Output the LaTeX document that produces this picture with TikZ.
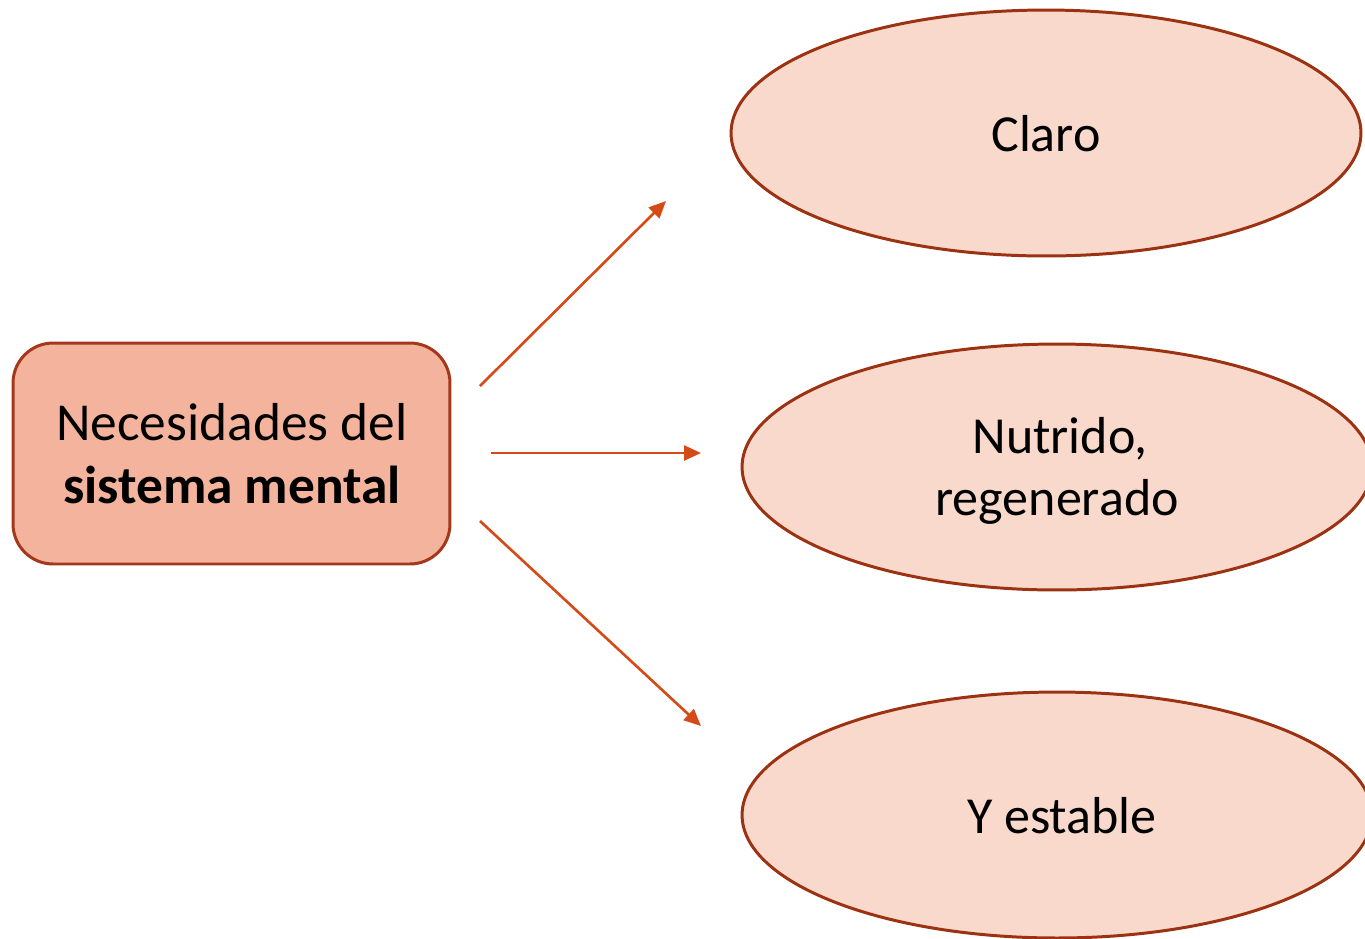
\documentclass[tikz,border=0pt]{standalone}
\usepackage{fontspec}
\setmainfont{Carlito}
\usetikzlibrary{arrows.meta,shapes.geometric}
\definecolor{boxfill}{HTML}{F3B39D}
\definecolor{boxdraw}{HTML}{A3381A}
\definecolor{ellfill}{HTML}{F8D9CC}
\definecolor{elldraw}{HTML}{9C3212}
\definecolor{arrcol}{HTML}{D54B17}
\begin{document}
\begin{tikzpicture}[x=0.02cm,y=-0.02cm,
  txt/.style={anchor=base,inner sep=0pt,font=\fontsize{29.6}{36}\selectfont,text=black},
  boxtxt/.style={txt,font=\fontsize{30.4}{36}\selectfont},
  bubble/.style={ellipse,draw=elldraw,fill=ellfill,line width=1.7pt,inner sep=0pt,minimum width=12.6cm,minimum height=4.92cm},
  mainbox/.style={rectangle,rounded corners=0.8cm,draw=boxdraw,fill=boxfill,line width=1.7pt,inner sep=0pt,minimum width=8.74cm,minimum height=4.42cm},
  conn/.style={draw=arrcol,line width=1.5pt,-{Triangle[length=0.34cm,width=0.3cm]}}]
\useasboundingbox (0,0) rectangle (1365,938);
\node[mainbox] (box) at (231.5,453.5) {};
\node[bubble] (e1) at (1046,133) {};
\node[bubble] (e2) at (1057,467) {};
\node[bubble] (e3) at (1057,815) {};
\node[boxtxt] (t1) at (232,440) {Necesidades del};
\node[boxtxt] (t2) at (232,503) {\bfseries sistema mental};
\node[txt] (c1) at (1046,151) {Claro};
\node[txt] (c2a) at (1060,453) {Nutrido,};
\node[txt] (c2b) at (1057,515) {regenerado};
\node[txt] (c3) at (1062,833) {Y estable};
\coordinate (s1) at (480,386);
\coordinate (f1) at (666,201);
\coordinate (s2) at (491,453);
\coordinate (f2) at (701,453);
\coordinate (s3) at (480,521);
\coordinate (f3) at (701,726);
\draw[conn] (s1) -- (f1);
\draw[conn] (s2) -- (f2);
\draw[conn] (s3) -- (f3);
\end{tikzpicture}
\end{document}
